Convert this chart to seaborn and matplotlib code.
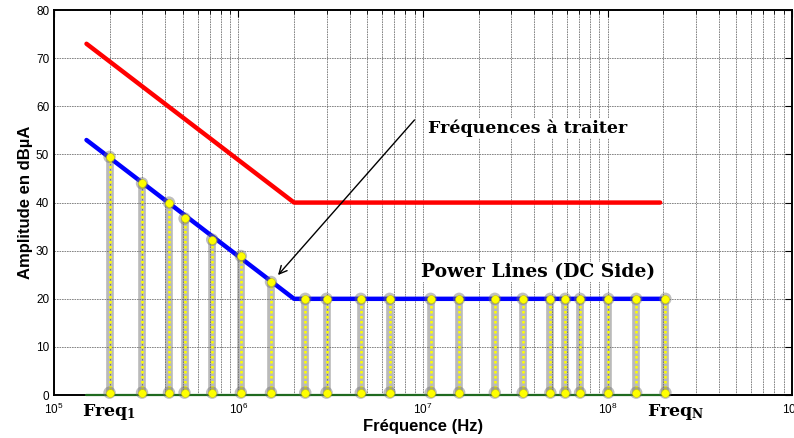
import numpy as np
import pandas as pd
import seaborn as sns
import matplotlib.pyplot as plt
from matplotlib.ticker import LogLocator

# Limit curves (frequency in Hz, amplitude in dBuA)
limit_freq = [1.5e5, 2e6, 1.93e8]
limit_red = [73, 40, 40]
mask_freq = [1.5e5, 2e6, 2.08e8]
mask_blue = [53, 20, 20]

# Frequencies to treat (stems)
stem_freq = [2e5, 3e5, 4.2e5, 5.1e5, 7.2e5, 1.03e6, 1.5e6, 2.3e6, 3e6, 4.6e6,
             6.6e6, 1.1e7, 1.57e7, 2.45e7, 3.47e7, 4.9e7, 5.9e7, 7.1e7,
             1.01e8, 1.43e8, 2.06e8]
stem_amp = [49.5, 44, 40, 36.7, 32.3, 28.9, 23.5, 20, 20, 20,
            20, 20, 20, 20, 20, 20, 20, 20,
            20, 20, 20]
stem_base = 0.5

x_ticks = [1e5, 1e6, 1e7, 1e8, 1e9]
y_ticks = [0, 10, 20, 30, 40, 50, 60, 70, 80]

sns.set_style("white")
plt.rcParams['font.family'] = ['Liberation Sans', 'DejaVu Sans']
plt.rcParams['mathtext.fontset'] = 'dejavuserif'
plt.rcParams['text.color'] = 'black'
plt.rcParams['axes.labelcolor'] = 'black'

fig, ax = plt.subplots(figsize=(7.94, 4.38), dpi=100)
fig.subplots_adjust(left=0.068, right=0.9975, top=0.977, bottom=0.098)

ax.set_xscale('log')
ax.set_xlim(1e5, 1e9)
ax.set_ylim(0, 80)

# grid like matlab
ax.grid(which='major', axis='both', color='0.45', linestyle=(0, (2, 1)), linewidth=0.6)
ax.xaxis.set_minor_locator(LogLocator(base=10, subs=np.arange(2, 10)))
ax.grid(which='minor', axis='x', color='0.45', linestyle=(0, (2, 1)), linewidth=0.6)
ax.set_axisbelow(True)

# baseline
ax.plot([stem_freq[0] * 0.75, mask_freq[-1]], [0, 0], color='#1f6a1f', lw=1.6,
        zorder=10, clip_on=False)

# limit lines
sns.lineplot(x=limit_freq, y=limit_red, ax=ax, color='#ff0000', lw=3.2, zorder=4)
sns.lineplot(x=mask_freq, y=mask_blue, ax=ax, color='#0000ff', lw=3.2, zorder=4)

# stems: grey glow + yellow dotted
ax.vlines(stem_freq, stem_base, stem_amp, color='0.4', lw=5.5, alpha=0.45, zorder=5)
ax.vlines(stem_freq, stem_base, stem_amp, color='#ffff00', lw=1.8,
          linestyles=(0, (1, 1)), zorder=6)
pts = pd.DataFrame({'f': stem_freq + stem_freq,
                    'a': stem_amp + [stem_base] * len(stem_freq)})
sns.scatterplot(data=pts, x='f', y='a', ax=ax, color='0.45', s=80, alpha=0.45,
                edgecolor='none', zorder=11, clip_on=False)
sns.scatterplot(data=pts, x='f', y='a', ax=ax, color='#ffff00', s=32,
                edgecolor='#c8c800', linewidth=0.4, zorder=12, clip_on=False)

ax.set_xticks(x_ticks)
ax.set_yticks(y_ticks)
ax.tick_params(which='both', direction='in', top=True, right=True, colors='black',
               labelsize=8.5)
ax.tick_params(which='major', length=5, width=0.8)
ax.tick_params(axis='x', which='major', pad=5)
ax.tick_params(which='minor', length=3, width=0.6)
for s in ax.spines.values():
    s.set_color('black')
    s.set_linewidth(1.4)

ax.set_xlabel('Fréquence (Hz)', fontsize=12, fontweight='bold', labelpad=1)
ax.set_ylabel('Amplitude en dBµA', fontsize=12, fontweight='bold', labelpad=2)

serif = ['DejaVu Serif']
ax.annotate('', xy=(1.6e6, 24.5), xytext=(9.2e6, 57.6),
            arrowprops=dict(arrowstyle='->', color='black', lw=1, mutation_scale=14),
            zorder=8)
ax.text(1.06e7, 55.5, 'Fréquences à traiter', family=serif, fontweight='bold',
        fontsize=12.5, va='center', ha='left', zorder=8,
        bbox=dict(facecolor='white', edgecolor='none', pad=1))
ax.text(9.8e6, 25.6, 'Power Lines (DC Side)', family=serif, fontweight='bold',
        fontsize=13.5, va='center', ha='left', zorder=8,
        bbox=dict(facecolor='white', edgecolor='none', pad=1))
ax.text(1.42e5, -3.6, r'Freq$_\mathbf{1}$', family=serif, fontweight='bold',
        fontsize=12.5, va='center', ha='left', clip_on=False)
ax.text(1.63e8, -3.6, r'Freq$_\mathbf{N}$', family=serif, fontweight='bold',
        fontsize=12.5, va='center', ha='left', clip_on=False)

plt.savefig('out.png', dpi=100)
